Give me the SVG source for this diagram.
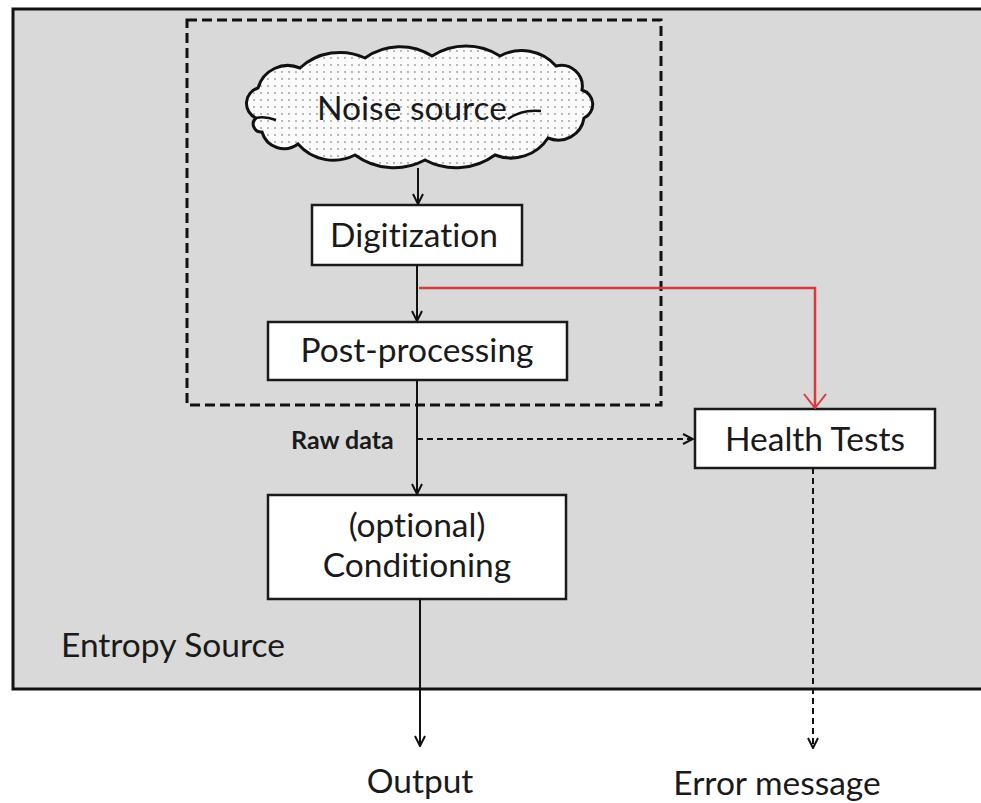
<svg xmlns="http://www.w3.org/2000/svg" width="981" height="803" viewBox="0 0 981 803">
<style>
.t{font-family:"Lato","Open Sans","Liberation Sans",sans-serif;fill:#1a1a1a;font-size:33.5px;font-variant-ligatures:none;font-feature-settings:"liga" 0;}
.box{fill:#fff;stroke:#1a1a1a;stroke-width:2.5;}
.ln{fill:none;stroke:#111;stroke-width:2;}
.dash{fill:none;stroke:#111;stroke-width:2;stroke-dasharray:6 4;}
.red{fill:none;stroke:#d9393e;stroke-width:2.5;}
</style>
<defs>
<pattern id="dots" width="7" height="7" patternUnits="userSpaceOnUse">
<rect width="7" height="7" fill="#fbfbfb"/>
<circle cx="2" cy="2" r="0.9" fill="#9a9a9a"/>
</pattern>
<marker id="ah" viewBox="0 0 12 12" refX="11" refY="6" markerWidth="12" markerHeight="12" markerUnits="userSpaceOnUse" orient="auto">
<path d="M1,1 L11,6 L1,11" fill="none" stroke="#111" stroke-width="2"/>
</marker>
<marker id="ahr" viewBox="0 0 16 24" refX="15" refY="12" markerWidth="16" markerHeight="24" markerUnits="userSpaceOnUse" orient="auto">
<path d="M1,1 L15,12 L1,23" fill="none" stroke="#d9393e" stroke-width="2"/>
</marker>
</defs>
<rect x="0" y="0" width="981" height="803" fill="#fff"/>
<g id="entropy-source">
<rect x="13" y="9" width="1000" height="680" fill="#d9d9d9" stroke="#111" stroke-width="3"/>
<text class="t" x="61" y="657">Entropy Source</text>
</g>
<g id="noise-boundary">
<rect x="187" y="20" width="474" height="385" fill="none" stroke="#111" stroke-width="3" stroke-dasharray="10 5"/>
</g>
<g id="noise-source">
<path d="M256,118 A16,16 0 0 1 258,88 A31,31 0 0 1 300,68 A59,59 0 0 1 365,58 A60,60 0 0 1 432,56 A63,63 0 0 1 500,56 A46,46 0 0 1 556,66 A21,21 0 0 1 582,90 A15,15 0 0 1 584,118 A26,26 0 0 1 548,138 A44,44 0 0 1 495,155 A66,66 0 0 1 425,160 A66,66 0 0 1 355,155 A47,47 0 0 1 298,144 A23,23 0 0 1 262,132 A8,8 0 0 1 256,118 Z" fill="url(#dots)" stroke="#111" stroke-width="3"/>
<path d="M508,119 Q522,109 541,111" fill="none" stroke="#111" stroke-width="2.5"/>
<path d="M256,118 Q265,116 276,120" fill="none" stroke="#111" stroke-width="2.5"/>
<text class="t" x="412" y="120" text-anchor="middle">Noise source</text>
</g>
<g id="digitization">
<rect class="box" x="312" y="205" width="210" height="60"/>
<text class="t" x="414" y="247" text-anchor="middle">Digitization</text>
</g>
<g id="post-processing">
<rect class="box" x="268" y="322" width="299" height="58"/>
<text class="t" x="417" y="362" text-anchor="middle">Post-processing</text>
</g>
<g id="conditioning">
<rect class="box" x="268" y="495" width="298" height="104"/>
<text class="t" x="417" y="537" text-anchor="middle">(optional)</text>
<text class="t" x="417" y="577" text-anchor="middle">Conditioning</text>
</g>
<g id="health-tests">
<rect class="box" x="695" y="409" width="240" height="59"/>
<text class="t" x="815" y="451" text-anchor="middle">Health Tests</text>
</g>
<g id="output">
<text class="t" x="420" y="793" text-anchor="middle">Output</text>
</g>
<g id="error-message">
<text class="t" x="777" y="795" text-anchor="middle">Error message</text>
</g>
<g id="connectors">
<line class="ln" x1="418" y1="168" x2="418" y2="204" marker-end="url(#ah)"/>
<line class="ln" x1="417" y1="265" x2="417" y2="321" marker-end="url(#ah)"/>
<line class="ln" x1="417" y1="380" x2="417" y2="494" marker-end="url(#ah)"/>
<polyline class="red" points="419,288 815,288 815,408" marker-end="url(#ahr)"/>
<line class="dash" x1="417" y1="439" x2="693" y2="439" marker-end="url(#ah)"/>
<line class="ln" x1="420" y1="599" x2="420" y2="746" marker-end="url(#ah)"/>
<line class="dash" x1="813" y1="468" x2="813" y2="748" marker-end="url(#ah)"/>
<text x="291" y="449" font-family="Lato,'Open Sans','Liberation Sans',sans-serif" font-size="25" font-weight="bold" fill="#1a1a1a">Raw data</text>
</g>
</svg>
